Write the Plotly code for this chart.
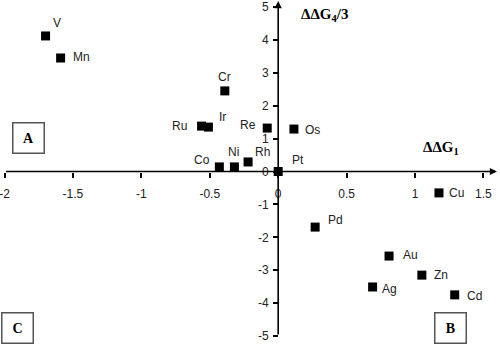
import plotly.graph_objects as go

# ---- data ----
metals = ["V", "Mn", "Cr", "Ru", "Ir", "Co", "Ni", "Rh", "Re", "Os", "Pt",
          "Cu", "Pd", "Au", "Zn", "Ag", "Cd"]
ddG1 = [-1.70, -1.59, -0.39, -0.56, -0.51, -0.43, -0.32, -0.22, -0.08, 0.115, 0.0,
        1.175, 0.27, 0.81, 1.05, 0.69, 1.29]
ddG4_3 = [4.12, 3.45, 2.45, 1.38, 1.35, 0.14, 0.14, 0.29, 1.32, 1.29, 0.0,
          -0.65, -1.69, -2.57, -3.15, -3.51, -3.75]
x_ticks = [-2, -1.5, -1, -0.5, 0, 0.5, 1, 1.5]
x_ticktext = ["-2", "-1.5", "-1", "-0.5", "0", "0.5", "1", "1.5"]
y_ticks = [5, 4, 3, 2, 1, 0, -1, -2, -3, -4, -5]
y_ticktext = ["5", "4", "3", "2", "1", "0", "-1", "-2", "-3", "-4", "-5"]

# label placement styles: (xanchor, xshift, yshift)
label_style = {
    "V": ("center", 11, 13), "Mn": ("left", 10, 1), "Cr": ("center", 0, 14),
    "Ru": ("right", -13, 0), "Ir": ("left", 9, 10), "Co": ("right", -7, 7),
    "Ni": ("center", -1, 15), "Rh": ("center", 14, 10), "Re": ("right", -9, 3),
    "Os": ("left", 9, -1), "Pt": ("left", 12, 12), "Cu": ("left", 8, 0),
    "Pd": ("left", 11, 7), "Au": ("left", 12, 1), "Zn": ("left", 10, 0),
    "Ag": ("left", 7, -2), "Cd": ("left", 10, -1),
}

W, H = 500, 351
xr = [-2.033, 1.621]
yr = [-5.456, 5.213]
x_arrow_end = 1.599
y_arrow_end = 5.18

fig = go.Figure()
fig.add_trace(go.Scatter(
    x=ddG1, y=ddG4_3, mode="markers",
    marker=dict(symbol="square", size=9, color="black"),
    hoverinfo="text", text=metals, showlegend=False,
))

tickfont = dict(family="Liberation Sans, Arial", size=12, color="#222")
label_font = dict(family="Liberation Sans, Arial", size=12, color="#222")
serif_bold = dict(family="Liberation Serif, Times New Roman", size=15, color="black")

annotations = []
for m, xv, yv in zip(metals, ddG1, ddG4_3):
    xa, xs, ys = label_style[m]
    annotations.append(dict(x=xv, y=yv, xref="x", yref="y", text=m, showarrow=False,
                            xanchor=xa, yanchor="middle", xshift=xs, yshift=ys,
                            font=label_font))

# axis lines with arrows
annotations.append(dict(x=x_arrow_end, y=0, ax=x_ticks[0], ay=0, xref="x", yref="y",
                        axref="x", ayref="y", showarrow=True, arrowhead=2,
                        arrowsize=0.9, arrowwidth=1.6, arrowcolor="black", text=""))
annotations.append(dict(x=0, y=y_arrow_end, ax=0, ay=y_ticks[-1], xref="x", yref="y",
                        axref="x", ayref="y", showarrow=True, arrowhead=2,
                        arrowsize=0.9, arrowwidth=1.6, arrowcolor="black", text=""))

# axis titles
annotations.append(dict(x=324 / W, y=1 - 15 / H, xref="paper", yref="paper",
                        text="<b>ΔΔG<sub>4</sub>/3</b>", showarrow=False,
                        xanchor="center", yanchor="middle", font=serif_bold))
annotations.append(dict(x=441 / W, y=1 - 148 / H, xref="paper", yref="paper",
                        text="<b>ΔΔG<sub>1</sub></b>", showarrow=False,
                        xanchor="center", yanchor="middle", font=serif_bold))

# quadrant boxes
for letter, cx, cy in [("A", 28.5, 138), ("B", 450, 327.5), ("C", 17.5, 327.5)]:
    annotations.append(dict(x=cx / W, y=1 - cy / H, xref="paper", yref="paper",
                            text="<b>" + letter + "</b>", showarrow=False,
                            xanchor="center", yanchor="middle", width=30, height=29,
                            borderwidth=1.5, bordercolor="#555", borderpad=0,
                            bgcolor="white",
                            font=dict(family="Liberation Serif, Times New Roman",
                                      size=14, color="black")))

fig.update_layout(
    width=W, height=H, margin=dict(l=0, r=0, t=0, b=0),
    paper_bgcolor="white", plot_bgcolor="white",
    annotations=annotations,
    xaxis=dict(range=xr, anchor="free", position=(0 - yr[0]) / (yr[1] - yr[0]),
               side="bottom", tickvals=x_ticks, ticktext=x_ticktext,
               ticks="outside", ticklen=5, tickwidth=1.5, tickcolor="black",
               showline=False, showgrid=False, zeroline=False, tickfont=tickfont,
               ticklabelstandoff=6, ticklabeloverflow="allow"),
    yaxis=dict(range=yr, anchor="free", position=(0 - xr[0]) / (xr[1] - xr[0]),
               side="left", tickvals=y_ticks, ticktext=y_ticktext,
               ticks="outside", ticklen=5, tickwidth=1.5, tickcolor="black",
               showline=False, showgrid=False, zeroline=False, tickfont=tickfont,
               ticklabelstandoff=2, ticklabeloverflow="allow"),
)

fig.write_html("out.html")
